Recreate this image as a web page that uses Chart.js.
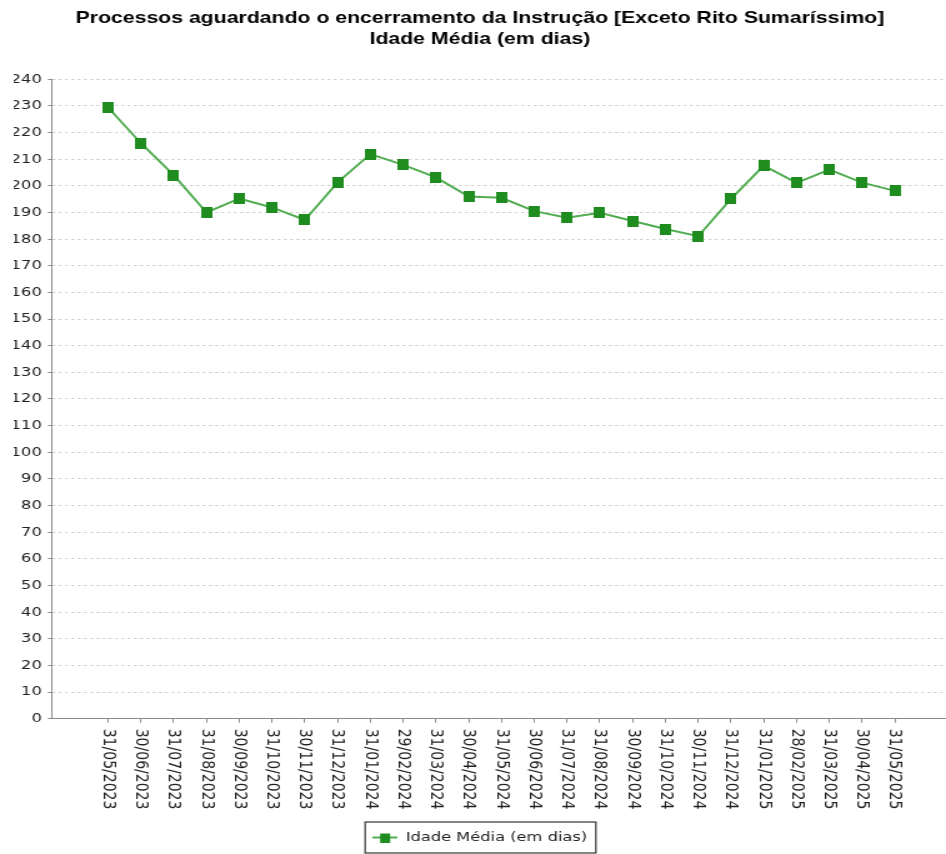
<!DOCTYPE html>
<html>
<head>
<meta charset="utf-8">
<script src="https://cdn.jsdelivr.net/npm/chart.js@4.4.1/dist/chart.umd.min.js"></script>
<style>
  html, body { margin: 0; padding: 0; background: #fff; overflow: hidden; }
  /* the source picture is stretched sideways, so the chart is drawn narrow and widened */
  #wrap { width: 757px; height: 854px; transform: scaleX(1.2497); transform-origin: 0 0; }
</style>
</head>
<body>
<div id="wrap"><canvas id="chart" width="757" height="854"></canvas></div>
<script>
// Data
const titleLines = [
    'Processos aguardando o encerramento da Instrução [Exceto Rito Sumaríssimo]',
    'Idade Média (em dias)'
];
const seriesName = 'Idade Média (em dias)';
const dates = [
    '31/05/2023', '30/06/2023', '31/07/2023', '31/08/2023', '30/09/2023', '31/10/2023',
    '30/11/2023', '31/12/2023', '31/01/2024', '29/02/2024', '31/03/2024', '30/04/2024',
    '31/05/2024', '30/06/2024', '31/07/2024', '31/08/2024', '30/09/2024', '31/10/2024',
    '30/11/2024', '31/12/2024', '31/01/2025', '28/02/2025', '31/03/2025', '30/04/2025',
    '31/05/2025'
];
const avgAge = [
    229.4, 216.0, 204.0, 190.0, 195.2, 191.9, 187.2, 201.3, 211.9, 207.9, 203.2, 196.0,
    195.5, 190.5, 188.0, 189.9, 186.8, 183.8, 181.1, 195.1, 207.6, 201.1, 206.1, 201.2,
    198.1
];
const yMin = 0;
const yMax = 240;
const yStep = 10;

const lineColor = '#52ad52';
const markColor = '#1f8c1f';
const textColor = '#222';
const axisColor = '#8a8a8a';
const gridColor = '#d2d2d2';

// Square marker (narrower than tall, it gets widened with the page)
function makeMarker(w, h) {
    const c = document.createElement('canvas');
    c.width = w; c.height = h;
    const g = c.getContext('2d');
    g.fillStyle = markColor;
    g.fillRect(0, 0, w, h);
    return c;
}
const marker = makeMarker(9, 11);

// Legend icon: line through a square
const legendIcon = (() => {
    const c = document.createElement('canvas');
    c.width = 20; c.height = 10;
    const g = c.getContext('2d');
    g.fillStyle = lineColor;
    g.fillRect(0, 4, 20, 2);
    g.fillStyle = markColor;
    g.fillRect(6, 1, 8, 9);
    return c;
})();

// X labels turned clockwise, top to bottom
const downLabels = {
    id: 'downLabels',
    afterDraw(chart) {
        const { ctx, scales: { x } } = chart;
        ctx.save();
        ctx.font = '14px "DejaVu Sans"';
        ctx.fillStyle = textColor;
        ctx.textAlign = 'left';
        ctx.textBaseline = 'middle';
        dates.forEach((d, i) => {
            ctx.save();
            ctx.translate(x.getPixelForValue(i), x.top + 10);
            ctx.rotate(Math.PI / 2);
            ctx.fillText(d, 0, 0);
            ctx.restore();
        });
        ctx.restore();
    }
};

// Frame round the legend
const legendFrame = {
    id: 'legendFrame',
    afterDraw(chart) {
        const hb = chart.legend && chart.legend.legendHitBoxes[0];
        if (!hb) return;
        const ctx = chart.ctx;
        ctx.save();
        ctx.strokeStyle = '#333';
        ctx.lineWidth = 1.2;
        ctx.strokeRect(hb.left - 6, hb.top - 9, hb.width + 13, 31);
        ctx.restore();
    }
};

new Chart(document.getElementById('chart'), {
    type: 'line',
    data: {
        datasets: [{
            label: seriesName,
            data: avgAge.map((v, i) => ({ x: i, y: v })),
            borderColor: lineColor,
            backgroundColor: markColor,
            borderWidth: 2,
            tension: 0,
            pointStyle: marker,
            pointRadius: 5,
            pointBorderWidth: 0,
            fill: false,
        }]
    },
    options: {
        responsive: false,
        animation: false,
        layout: { padding: { left: 11, right: 0, top: 0, bottom: 0 }, autoPadding: false },
        plugins: {
            title: {
                display: true,
                text: titleLines,
                color: '#000',
                font: { family: "'Liberation Sans', Arial, sans-serif", size: 17, weight: 'bold', lineHeight: 1.235 },
                padding: { top: 8, bottom: 29.3 }
            },
            legend: {
                position: 'bottom',
                labels: {
                    color: textColor,
                    font: { family: "'DejaVu Sans'", size: 13 },
                    padding: 10,
                    usePointStyle: true,
                    pointStyleWidth: 20,
                    generateLabels: (chart) =>
                        Chart.defaults.plugins.legend.labels.generateLabels(chart)
                            .map(l => ({ ...l, pointStyle: legendIcon }))
                }
            },
            tooltip: { enabled: false }
        },
        scales: {
            x: {
                type: 'linear',
                min: -1.72,
                max: dates.length - 1 + 1.56,
                afterBuildTicks: (scale) => { scale.ticks = dates.map((_, i) => ({ value: i })); },
                afterFit: (scale) => { scale.height = 102.3; },
                ticks: { display: false },
                grid: { drawOnChartArea: false, drawTicks: true, tickLength: 4, tickColor: axisColor },
                border: { display: true, color: axisColor, width: 1 }
            },
            y: {
                min: yMin,
                max: yMax,
                afterFit: (scale) => { scale.width = 30.4; },
                ticks: {
                    stepSize: yStep,
                    padding: 5,
                    color: textColor,
                    font: { family: "'DejaVu Sans'", size: 13 }
                },
                grid: { color: gridColor, lineWidth: 1, tickLength: 3, tickColor: axisColor, tickBorderDash: [] },
                border: { display: true, color: axisColor, width: 1, dash: [2.5, 2.5] }
            }
        }
    },
    plugins: [downLabels, legendFrame]
});
</script>
</body>
</html>
